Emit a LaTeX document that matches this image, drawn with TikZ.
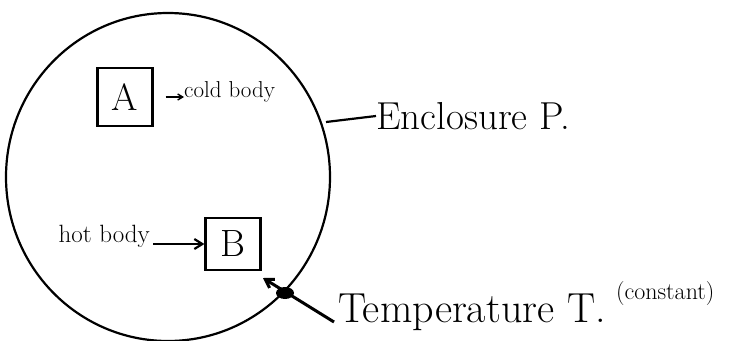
\documentclass[tikz,border=0pt]{standalone}
\usetikzlibrary{arrows.meta}
\begin{document}
\begin{tikzpicture}[x=1pt,y=-1pt,
  ink/.style={line width=2.2pt,black},
  bodybox/.style={draw,line width=2.2pt,minimum width=55pt,minimum height=58pt,inner sep=0pt,font=\fontsize{38}{40}\selectfont},
  lbl/.style={inner sep=0pt,anchor=west},
  pointer/.style={ink,-{Straight Barb[length=8pt,width=10pt]}}]
\useasboundingbox (0,0) rectangle (733,340);
\draw[ink] (168,177) ellipse [x radius=162, y radius=164];
\node[bodybox] (A) at (125,97) {A};
\node[bodybox,minimum height=52pt] (B) at (233,244) {B};
\node[lbl,font=\fontsize{23}{24}\selectfont] (cold) at (184,92) {cold body};
\draw[pointer,line width=1.4pt,-{Straight Barb[length=5pt,width=6pt]}] (A.east)++(12,0) coordinate (ca) -- (cold.west|-ca) coordinate (cb);
\node[lbl,anchor=east,font=\fontsize{25}{26}\selectfont] (hot) at (150,236) {hot body};
\draw[pointer] (hot.east|-B.west)++(3,0) coordinate (ha) -- (B.west) ;
\coordinate (encl) at (326,122);
\node[lbl,font=\fontsize{39}{40}\selectfont] (enc) at (376,116) {Enclosure P.};
\draw[ink] (encl) -- (enc.west);
\node[lbl,font=\fontsize{42}{44}\selectfont] (temp) at (338,312) {Temperature T.};
\node[lbl,font=\fontsize{24}{26}\selectfont] (const) at (temp.east) [yshift=18pt,xshift=10pt] {(constant)};
\draw[pointer,line width=3pt] (temp.west)++(-4,10) coordinate (ta) -- (263,278);
\fill (285,293) ellipse [x radius=9, y radius=6];
\end{tikzpicture}
\end{document}
